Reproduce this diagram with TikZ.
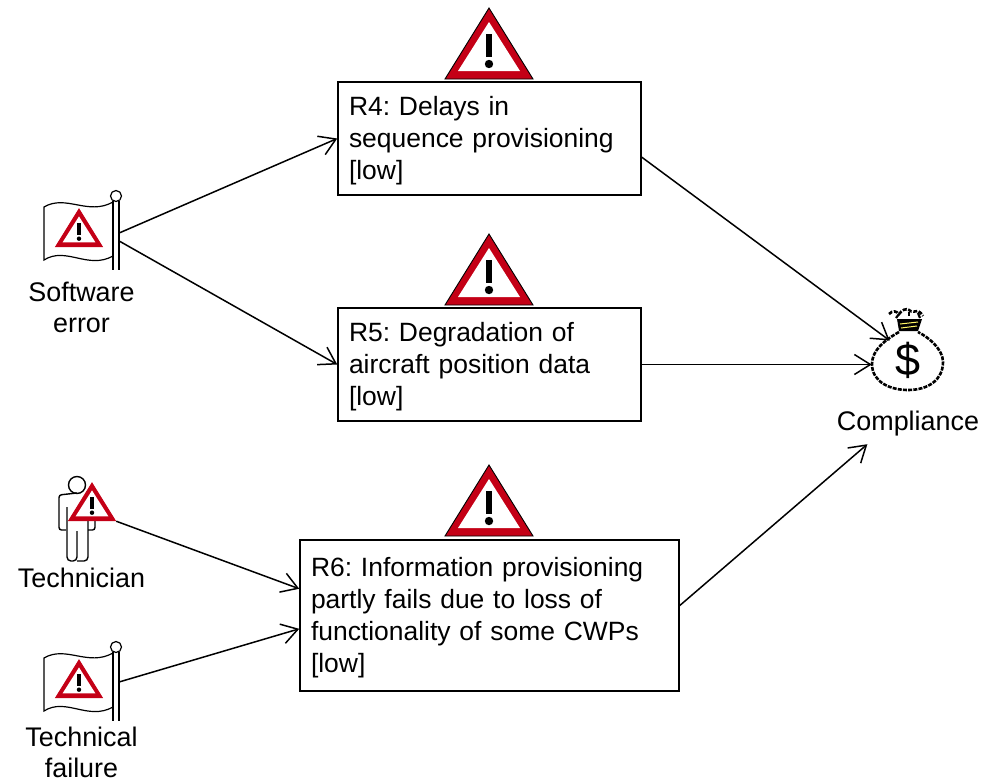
\documentclass[tikz,border=0pt]{standalone}
\usepackage{fontspec}
\setmainfont{Liberation Sans}
\usetikzlibrary{arrows.meta,shapes.geometric}
\definecolor{warnred}{RGB}{196,0,22}
\tikzset{
  riskbox/.style={draw=black,line width=1.5pt,fill=white,inner xsep=11pt,align=left,font=\frenchspacing\fontsize{26.45}{32}\selectfont,execute at begin node={\rule{0pt}{23pt}}},
  iconlabel/.style={align=center,font=\fontsize{26.9}{31}\selectfont},
  iconarea/.style={rectangle,minimum width=#1},
  conn/.style={black,line width=1.5pt,-{Straight Barb[length=16pt,width=20pt,line width=1.5pt]}},
  pics/warnsign/.style={code={
    \fill [warnred] (0,0) -- (44,71) -- (-44,71) -- cycle;
    \draw [#1,line width=0.9pt] (0,0) -- (44,71) -- (-44,71) -- cycle;
    \fill [white] (0,14) -- (31,63) -- (-31,63) -- cycle;
    \fill [black] (-3.4,26) rectangle (3.4,49);
    \fill [black] (0,56) circle (4.2);
  }},
  pics/warnsign/.default=black,
  pics/flagicon/.style={code={
    \draw [black,line width=1.2pt] (-72,11) .. controls (-50,-2) and (-28,20) .. (-3,6) -- (-3,60) .. controls (-28,74) and (-50,50) .. (-72,64) -- cycle;
    \draw [black,line width=1.2pt] (-3,5) -- (-3,74);
    \draw [black,line width=1.2pt] (3,5) -- (3,74);
    \draw [black,line width=1.2pt] (0,0) circle (5.5);
    \pic [scale=0.53] at (-37,13) {warnsign=warnred};
  }}
}
\begin{document}
\begin{tikzpicture}[x=1pt,y=-1pt]
\tikzstyle{every node}+=[inner sep=0pt]
\useasboundingbox (0,0) rectangle (983,780);
\pic at (489,8) {warnsign};
\pic at (489,234) {warnsign};
\pic at (489,465) {warnsign};
\node [riskbox,text width=281pt,minimum height=113pt] (r4) at (489.5,138.5) {R4: Delays in\\sequence provisioning\\{}[low]};
\node [riskbox,text width=357pt,minimum height=151pt] (r6) at (489.5,615.5) {R6: Information provisioning\\partly fails due to loss of\\functionality of some CWPs\\{}[low]};
\node [riskbox,text width=281pt,minimum height=113pt] (r5) at (489.5,364.5) {R5: Degradation of\\aircraft position data\\{}[low]};
\pic at (116,196) {flagicon};
\pic at (116,647) {flagicon};
\node [iconarea=76pt,minimum height=70pt] (softflag) at (81,237) {};
\node [iconarea=76pt,minimum height=70pt] (failflag) at (81,688) {};
\node [iconlabel] (softlabel) at (81.5,307.5) {Software\\error};
\node [iconlabel] (faillabel) at (81.5,752.5) {Technical\\failure};
\node [iconarea=56pt,minimum height=36pt] (tech) at (88,503) {};
\node [iconlabel] (techlabel) at (81.5,578) {Technician};
\draw [black,line width=1.4pt] (77,485) circle (8.5);
\draw [black,line width=1.4pt,rounded corners=2.5pt] (77,493) -- (59,495) -- (59,530) -- (66,530);
\draw [black,line width=1.4pt,rounded corners=4pt] (67,507) -- (67,561) -- (77,561) -- (77,531);
\draw [black,line width=1.4pt,rounded corners=4pt] (77,561) -- (88,561) -- (88,518);
\draw [black,line width=1.4pt,rounded corners=2.5pt] (88,530) -- (95,530) -- (95,518);
\pic [scale=0.53] at (92,483) {warnsign=warnred};
\node [ellipse,minimum width=72pt,minimum height=54pt] (bag) at (908,364) {};
\draw [black,line width=2.6pt,dash pattern=on 4pt off 1.2pt] (899,332) .. controls (885,340) and (872,350) .. (872,364) .. controls (872,382) and (890,390) .. (908,390) .. controls (928,390) and (943,380) .. (943,362) .. controls (943,350) and (930,338) .. (918,332);
\fill [black] (897,319) -- (922,319) -- (918,331) -- (899,331) -- cycle;
\draw [yellow!60!white,line width=1pt] (900,324) -- (918,322);
\draw [yellow!60!white,line width=1pt] (901,328) -- (917,326);
\draw [black,line width=2.6pt,dash pattern=on 4pt off 1.6pt] (889,314) .. controls (893,310) and (896,311) .. (899,314) .. controls (902,310) and (906,308) .. (909,310) .. controls (912,313) and (915,311) .. (918,311) .. controls (920,312) and (922,314) .. (923,316);
\draw [black,line width=2.2pt] (896,318) -- (899,314);
\draw [black,line width=2.2pt] (909,316) -- (909,312);
\draw [black,line width=2.2pt] (920,318) -- (918,313);
\node [font=\fontsize{45}{45}\selectfont] (dollar) at (908,360) {\$};
\node [iconlabel,minimum height=41pt] (compl) at (908,423.5) {Compliance};
\draw [conn] (softflag.6) -- (r4.west);
\draw [conn] (softflag.-6) -- (r5.west);
\draw [conn] (tech.south east) -- (r6.172.5);
\draw [conn] (failflag.9) -- (r6.184.7);
\draw [conn] (r4.-7) -- (bag.128);
\draw [conn] (r5.east) -- (r5.east -| bag.west);
\draw [conn] (r6.3.5) -- (compl.207);
\end{tikzpicture}
\end{document}
